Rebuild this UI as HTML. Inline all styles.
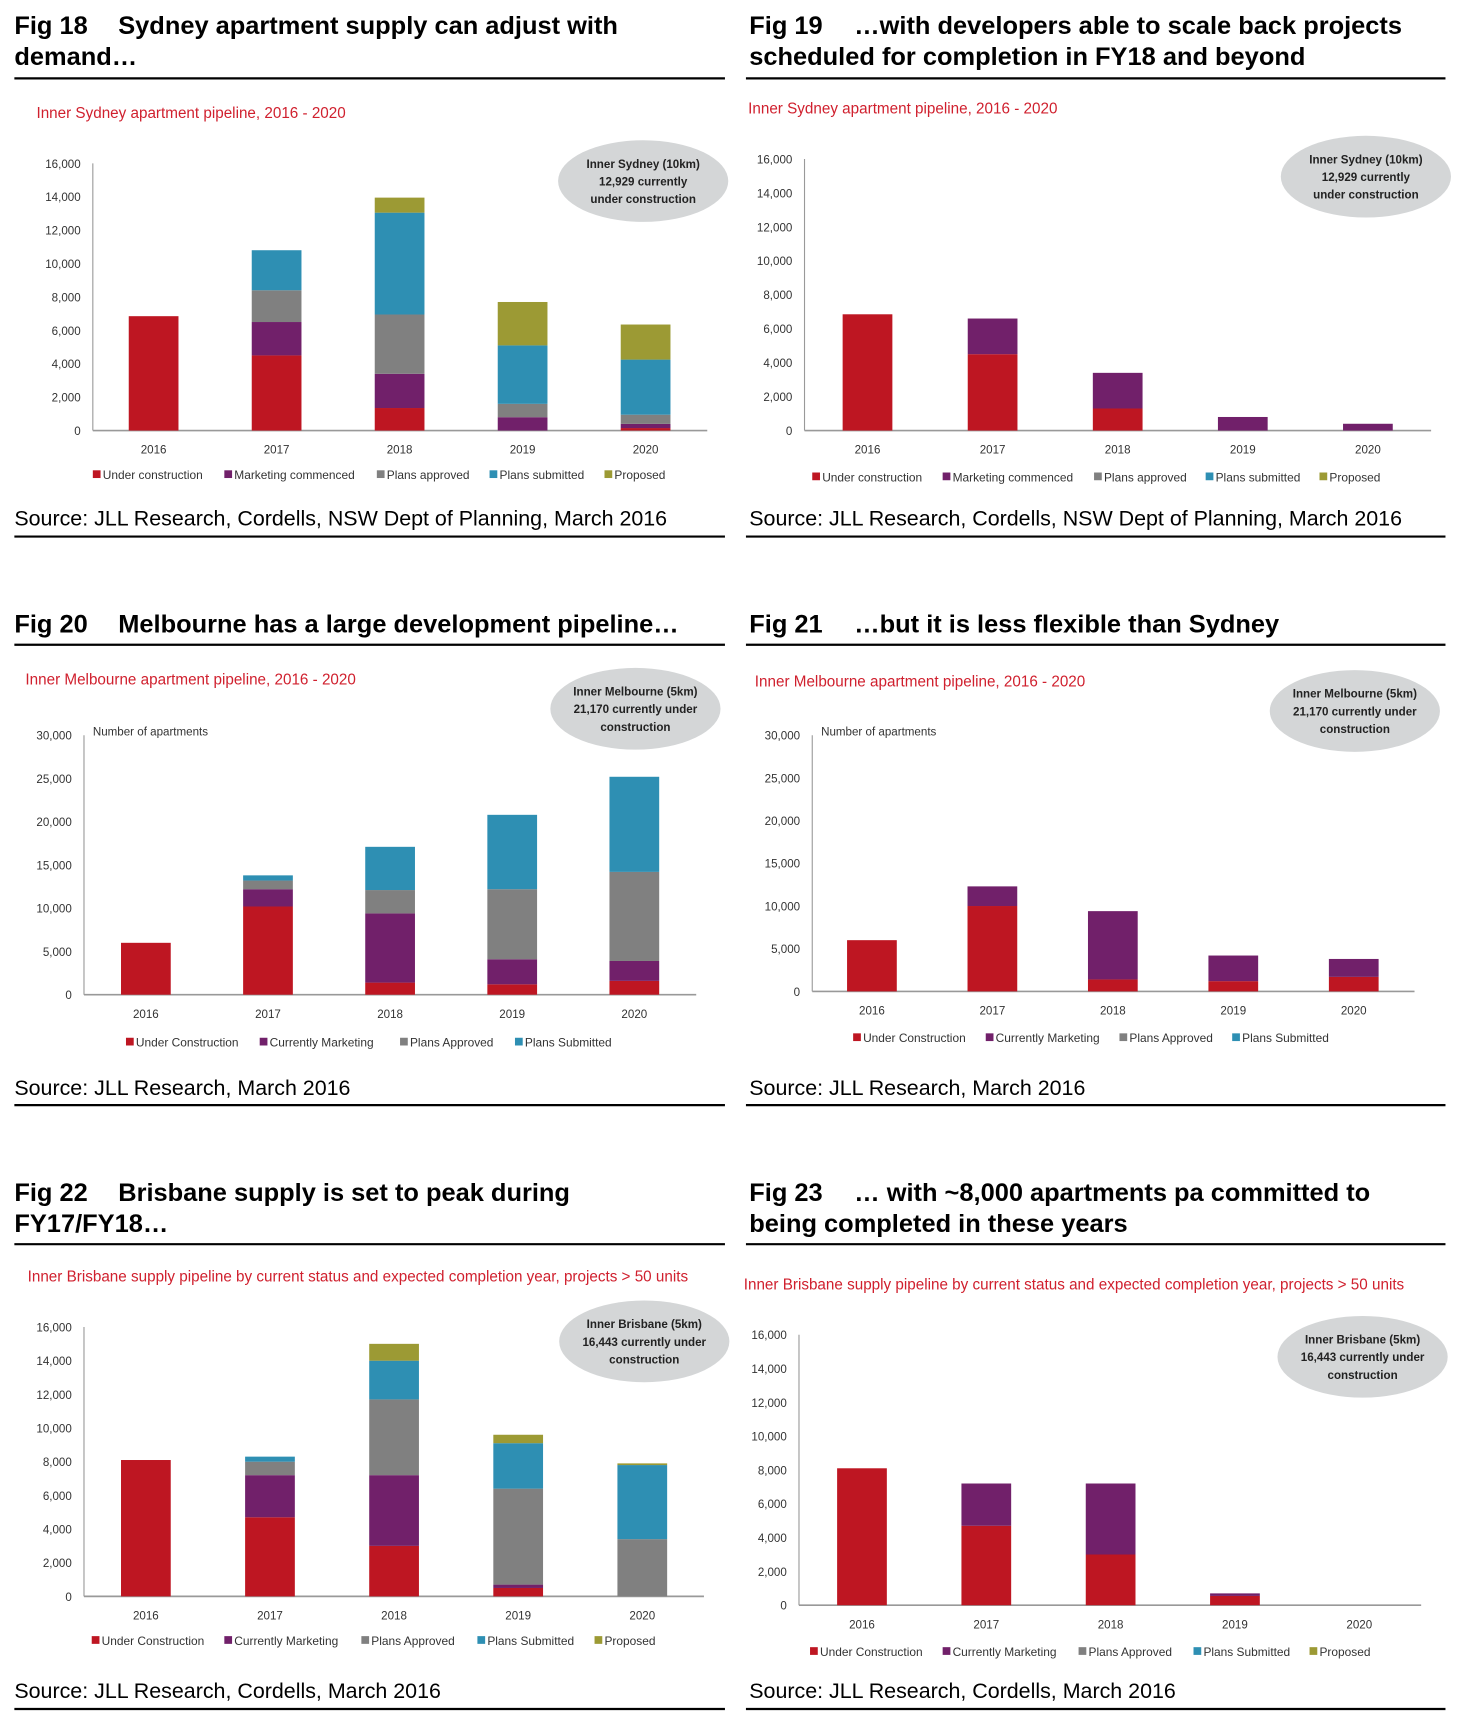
<!DOCTYPE html>
<html><head><meta charset="utf-8">
<style>
html,body{margin:0;padding:0;background:#fff;width:1462px;height:1725px;overflow:hidden}
#wrap{position:absolute;left:0;top:0;width:1323px;height:1563px;transform:scale(1.1051,1.1040);transform-origin:0 0}
svg text{font-family:"Liberation Sans",sans-serif}
.t{font-weight:bold;font-size:23px;fill:#000}
.src{font-size:19.4px;fill:#000}
.sub{font-family:"Liberation Sans Narrow","Liberation Sans",sans-serif !important;font-size:13.8px;fill:#d0202e}
.tk{font-family:"Liberation Sans Narrow","Liberation Sans",sans-serif !important;font-size:10.5px;fill:#333}
.lg{font-family:"Liberation Sans Narrow","Liberation Sans",sans-serif !important;font-size:10.8px;fill:#333}
.el{font-family:"Liberation Sans Narrow","Liberation Sans",sans-serif !important;font-size:10.5px;font-weight:bold;fill:#222}
</style></head><body>
<div id="wrap">
<svg id="page" width="1323" height="1563" viewBox="0 0 1323 1563" xmlns="http://www.w3.org/2000/svg">
<g>
<text class="t" x="13" y="31">Fig 18</text><text class="t" x="107" y="31">Sydney apartment supply can adjust with</text>
<text class="t" x="13" y="59">demand…</text>
<line x1="13" y1="71" x2="656" y2="71" stroke="#000" stroke-width="2"/>
<text class="src" x="13" y="476">Source: JLL Research, Cordells, NSW Dept of Planning, March 2016</text>
<line x1="13" y1="486" x2="656" y2="486" stroke="#000" stroke-width="2"/>
</g>
<g>
<text class="t" x="678" y="31">Fig 19</text><text class="t" x="773" y="31">…with developers able to scale back projects</text>
<text class="t" x="678" y="59">scheduled for completion in FY18 and beyond</text>
<line x1="675" y1="71" x2="1308" y2="71" stroke="#000" stroke-width="2"/>
<text class="src" x="678" y="476">Source: JLL Research, Cordells, NSW Dept of Planning, March 2016</text>
<line x1="675" y1="486" x2="1308" y2="486" stroke="#000" stroke-width="2"/>
</g>
<g>
<text class="t" x="13" y="573">Fig 20</text><text class="t" x="107" y="573">Melbourne has a large development pipeline…</text>
<line x1="13" y1="584" x2="656" y2="584" stroke="#000" stroke-width="2"/>
<text class="src" x="13" y="992">Source: JLL Research, March 2016</text>
<line x1="13" y1="1001" x2="656" y2="1001" stroke="#000" stroke-width="2"/>
</g>
<g>
<text class="t" x="678" y="573">Fig 21</text><text class="t" x="773" y="573">…but it is less flexible than Sydney</text>
<line x1="675" y1="584" x2="1308" y2="584" stroke="#000" stroke-width="2"/>
<text class="src" x="678" y="992">Source: JLL Research, March 2016</text>
<line x1="675" y1="1001" x2="1308" y2="1001" stroke="#000" stroke-width="2"/>
</g>
<g>
<text class="t" x="13" y="1088">Fig 22</text><text class="t" x="107" y="1088">Brisbane supply is set to peak during</text>
<text class="t" x="13" y="1116">FY17/FY18…</text>
<line x1="13" y1="1127" x2="656" y2="1127" stroke="#000" stroke-width="2"/>
<text class="src" x="13" y="1538">Source: JLL Research, Cordells, March 2016</text>
<line x1="13" y1="1548" x2="656" y2="1548" stroke="#000" stroke-width="2"/>
</g>
<g>
<text class="t" x="678" y="1088">Fig 23</text><text class="t" x="773" y="1088">… with ~8,000 apartments pa committed to</text>
<text class="t" x="678" y="1116">being completed in these years</text>
<line x1="675" y1="1127" x2="1308" y2="1127" stroke="#000" stroke-width="2"/>
<text class="src" x="678" y="1538">Source: JLL Research, Cordells, March 2016</text>
<line x1="675" y1="1548" x2="1308" y2="1548" stroke="#000" stroke-width="2"/>
</g>
</svg>
</div>
<script>
const years = ["2016","2017","2018","2019","2020"];
const sydneyTicks = [0,2000,4000,6000,8000,10000,12000,14000,16000];
const melbTicks = [0,5000,10000,15000,20000,25000,30000];
// Fig 18 series
const f18Under = [6850,4500,1350,0,150];
const f18Marketing = [0,2000,2050,800,250];
const f18Approved = [0,1900,3550,800,550];
const f18Submitted = [0,2400,6100,3500,3300];
const f18Proposed = [0,0,900,2600,2100];
// Fig 19 series
const f19Under = [6850,4500,1300,0,0];
const f19Marketing = [0,2100,2100,800,400];
// Fig 20 series
const f20Under = [6000,10200,1400,1200,1600];
const f20Marketing = [0,2000,8000,2900,2300];
const f20Approved = [0,1000,2700,8100,10300];
const f20Submitted = [0,600,5000,8600,11000];
// Fig 21 series
const f21Under = [6000,10000,1400,1200,1700];
const f21Marketing = [0,2300,8000,3000,2100];
// Fig 22 series
const f22Under = [8100,4700,3000,500,0];
const f22Marketing = [0,2500,4200,200,0];
const f22Approved = [0,800,4500,5700,3400];
const f22Submitted = [0,300,2300,2700,4400];
const f22Proposed = [0,0,1000,500,100];
// Fig 23 series
const f23Under = [8100,4700,3000,550,0];
const f23Marketing = [0,2500,4200,150,0];

const C = {u:"#be1622",m:"#71206a",a:"#808080",s:"#2e8fb3",p:"#9c9a34"};
const NS = "http://www.w3.org/2000/svg";
const page = document.getElementById('page');
function mk(tag, attrs, parent, txt){
  const e = document.createElementNS(NS, tag);
  for (const k in attrs) e.setAttribute(k, attrs[k]);
  if (txt !== undefined) e.textContent = txt;
  parent.appendChild(e); return e;
}
function chart(id, o){
  const g = mk('g', {}, page);
  
  
  const sub = mk('text', {class:'sub', x:o.subX, y:o.subY}, g, o.subtitle);
  
  
  const max = o.ticks[o.ticks.length-1];
  const y = v => o.y0 - (v/max)*(o.y0 - o.yTop);
  const x = i => o.cx0 + i*o.step;
  const ax = mk('line', {x1:o.ax, y1:o.yTop, x2:o.ax, y2:o.y0, stroke:'#999', 'stroke-width':1}, g);
  
  
  o.ticks.forEach(t => {
    const tl = mk('text', {class:'tk', x:o.ax-11, y:y(t)+4, 'text-anchor':'end'}, g, t.toLocaleString('en-US'));
    
    
  });
  if (o.yLabel){
    const yl = mk('text', {class:'tk', x:o.ax+8, y:o.yTop}, g, o.yLabel);
    
    
  }
  const xa = mk('line', {x1:o.ax, y1:o.y0, x2:o.axEnd, y2:o.y0, stroke:'#999', 'stroke-width':1.5}, g);
  
  
  years.forEach((yr, i) => {
    const xl = mk('text', {class:'tk', x:x(i), y:o.y0+21, 'text-anchor':'middle'}, g, yr);
    
    
    let base = 0;
    o.series.forEach(s => {
      const v = s.vals[i];
      if (v > 0){
        const r = mk('rect', {x:x(i)-22.5, y:y(base+v), width:45, height:y(base)-y(base+v), fill:s.c}, g);
        
        
      }
      base += v;
    });
  });
  o.legend.forEach((L, i) => {
    const lg = mk('g', {}, g);
    
    
    mk('rect', {x:o.legX[i], y:o.legY-8, width:7, height:7, fill:L[1]}, lg);
    mk('text', {class:'lg', x:o.legX[i]+9, y:o.legY}, lg, L[0]);
  });
  const eg = mk('g', {}, g);
  
  
  mk('ellipse', {cx:o.ex, cy:o.ey, rx:77, ry:37, fill:'#d4d6d7'}, eg);
  o.eText.forEach((t, i) => mk('text', {class:'el', x:o.ex, y:o.ey-12+i*16, 'text-anchor':'middle'}, eg, t));
}
const L5a = [["Under construction",C.u],["Marketing commenced",C.m],["Plans approved",C.a],["Plans submitted",C.s],["Proposed",C.p]];
const L4b = [["Under Construction",C.u],["Currently Marketing",C.m],["Plans Approved",C.a],["Plans Submitted",C.s]];
const L5b = L4b.concat([["Proposed",C.p]]);
chart('fig18', {subtitle:"Inner Sydney apartment pipeline, 2016 - 2020", subX:33, subY:107, ticks:sydneyTicks, ax:84, axEnd:640, y0:390, yTop:148, cx0:139, step:111.3,
  series:[{key:'under',c:C.u,vals:f18Under},{key:'marketing',c:C.m,vals:f18Marketing},{key:'approved',c:C.a,vals:f18Approved},{key:'submitted',c:C.s,vals:f18Submitted},{key:'proposed',c:C.p,vals:f18Proposed}],
  legend:L5a, legX:[84,203,341,443,547], legY:434, ex:582, ey:164, eText:["Inner Sydney (10km)","12,929 currently","under construction"]});
chart('fig19', {subtitle:"Inner Sydney apartment pipeline, 2016 - 2020", subX:677, subY:103, ticks:sydneyTicks, ax:728, axEnd:1295, y0:390, yTop:144, cx0:785, step:113.2,
  series:[{key:'under',c:C.u,vals:f19Under},{key:'marketing',c:C.m,vals:f19Marketing}],
  legend:L5a, legX:[735,853,990,1091,1194], legY:436, ex:1236, ey:160, eText:["Inner Sydney (10km)","12,929 currently","under construction"]});
chart('fig20', {subtitle:"Inner Melbourne apartment pipeline, 2016 - 2020", subX:23, subY:620, ticks:melbTicks, ax:76, axEnd:630, y0:901, yTop:666, cx0:132, step:110.5, yLabel:"Number of apartments",
  series:[{key:'under',c:C.u,vals:f20Under},{key:'marketing',c:C.m,vals:f20Marketing},{key:'approved',c:C.a,vals:f20Approved},{key:'submitted',c:C.s,vals:f20Submitted}],
  legend:L4b, legX:[114,235,362,466], legY:948, ex:575, ey:642, eText:["Inner Melbourne (5km)","21,170 currently under","construction"]});
chart('fig21', {subtitle:"Inner Melbourne apartment pipeline, 2016 - 2020", subX:683, subY:622, ticks:melbTicks, ax:735, axEnd:1280, y0:898, yTop:666, cx0:789, step:109,  yLabel:"Number of apartments",
  series:[{key:'under',c:C.u,vals:f21Under},{key:'marketing',c:C.m,vals:f21Marketing}],
  legend:L4b, legX:[772,892,1013,1115], legY:944, ex:1226, ey:644, eText:["Inner Melbourne (5km)","21,170 currently under","construction"]});
chart('fig22', {subtitle:"Inner Brisbane supply pipeline by current status and expected completion year, projects > 50 units", subX:25, subY:1161, ticks:sydneyTicks, ax:76, axEnd:637, y0:1446, yTop:1202, cx0:132, step:112.3,
  series:[{key:'under',c:C.u,vals:f22Under},{key:'marketing',c:C.m,vals:f22Marketing},{key:'approved',c:C.a,vals:f22Approved},{key:'submitted',c:C.s,vals:f22Submitted},{key:'proposed',c:C.p,vals:f22Proposed}],
  legend:L5b, legX:[83,203,327,432,538], legY:1490, ex:583, ey:1215, eText:["Inner Brisbane (5km)","16,443 currently under","construction"]});
chart('fig23', {subtitle:"Inner Brisbane supply pipeline by current status and expected completion year, projects > 50 units", subX:673, subY:1168, ticks:sydneyTicks, ax:723, axEnd:1286, y0:1454, yTop:1209, cx0:780, step:112.5,
  series:[{key:'under',c:C.u,vals:f23Under},{key:'marketing',c:C.m,vals:f23Marketing}],
  legend:L5b, legX:[733,853,976,1080,1185], legY:1500, ex:1233, ey:1229, eText:["Inner Brisbane (5km)","16,443 currently under","construction"]});
</script>
</body></html>
